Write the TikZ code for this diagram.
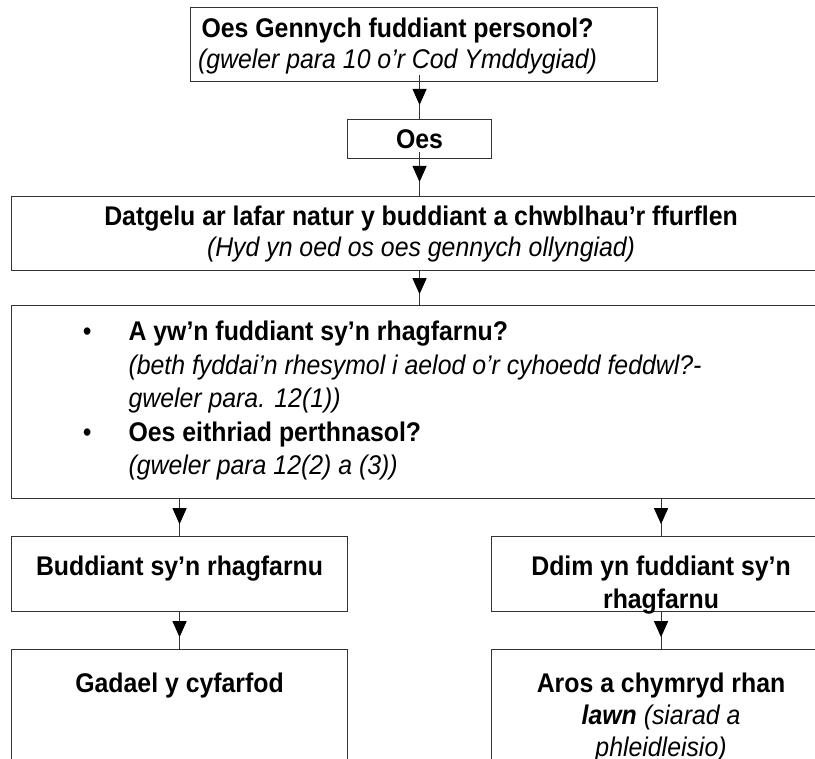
\documentclass[tikz,border=0pt]{standalone}
\usepackage{fontspec}
\setmainfont{Liberation Sans}[FakeStretch=0.92]
\usetikzlibrary{arrows.meta,decorations.markings}
\newcommand\fstrut{\rule{0pt}{23pt}}
\newcommand\mybul{\leavevmode\llap{\textbullet\hspace{37pt}}}
\begin{document}
\begin{tikzpicture}[x=1pt,y=-1pt,
  box/.style={draw=black!80, line width=1.1pt, inner sep=0pt, anchor=north west},
  conn/.style={line width=1.1pt, draw=black!80, postaction={decorate},
    decoration={markings, mark=at position #1 with {\arrow[black]{Triangle[width=14pt,length=16pt]}}}},
  conn/.default=0.68]
\useasboundingbox (0,0) rectangle (815,759);
\clip (0,0) rectangle (815,759);
\fill[white] (0,0) rectangle (815,759);

\node[box] (b1) at (190,7) {\parbox[c][74pt][t]{414pt}{\fontsize{27}{31}\selectfont\centering\vspace*{7pt}\fstrut\textbf{Oes Gennych fuddiant personol?}\\ \textit{(gweler para 10 o’r Cod Ymddygiad)}\par}\rule{53pt}{0pt}};

\node[box] (oes) at (347,119) {\parbox[c][39pt][t]{144pt}{\fontsize{27}{31}\selectfont\centering\vspace*{6pt}\fstrut\textbf{Oes}\par}};

\node[box] (b3) at (11,196) {\parbox[c][74pt][t]{819pt}{\fontsize{27}{31}\selectfont\centering\vspace*{6pt}\fstrut\textbf{Datgelu ar lafar natur y buddiant a chwblhau’r ffurflen}\\ \textit{(Hyd yn oed os oes gennych ollyngiad)}\par}};

\node[box] (b4) at (11,305) {\parbox[c][193pt][t]{819pt}{\fontsize{27}{33.5}\selectfont\raggedright\leftskip=117pt\vspace*{12pt}%
\fstrut\mybul\textbf{A yw’n fuddiant sy’n rhagfarnu?}\\
\textit{(beth fyddai’n rhesymol i aelod o’r cyhoedd feddwl?-}\\
\textit{gweler para. 12(1))}\\
\mybul\textbf{Oes eithriad perthnasol?}\\
\textit{(gweler para 12(2) a (3))}\par}};

\node[box] (bud) at (11,536) {\parbox[c][75pt][t]{336pt}{\fontsize{27}{32}\selectfont\centering\vspace*{16pt}\fstrut\textbf{Buddiant sy’n rhagfarnu}\par}};

\node[box] (ddim) at (491,536) {\parbox[c][75pt][t]{339pt}{\fontsize{27}{33}\selectfont\centering\vspace*{16pt}\fstrut\textbf{Ddim yn fuddiant sy’n}\\ \textbf{rhagfarnu}\par}};

\node[box] (gad) at (11,649) {\parbox[c][140pt][t]{336pt}{\fontsize{27}{32}\selectfont\centering\vspace*{20pt}\fstrut\textbf{Gadael y cyfarfod}\par}};

\node[box] (aros) at (491,649) {\parbox[c][140pt][t]{339pt}{\fontsize{27}{32}\selectfont\centering\vspace*{20pt}\fstrut\textbf{Aros a chymryd rhan}\\ \textbf{\textit{lawn}} \textit{(siarad a}\\ \textit{phleidleisio)}\par}};

\draw[conn] ([yshift=7pt]oes.north |- b1.south) -- (oes.north);
\draw[conn] ([yshift=7pt]oes.south) -- (oes.south |- b3.north);
\draw[conn] (oes.south |- b3.south) -- (oes.south |- b4.north);
\draw[conn] (bud.north |- b4.south) -- (bud.north);
\draw[conn] (ddim.north |- b4.south) -- (ddim.north);
\draw[conn] (bud.south) -- (gad.north);
\draw[conn] (ddim.south) -- (aros.north);
\end{tikzpicture}
\end{document}
